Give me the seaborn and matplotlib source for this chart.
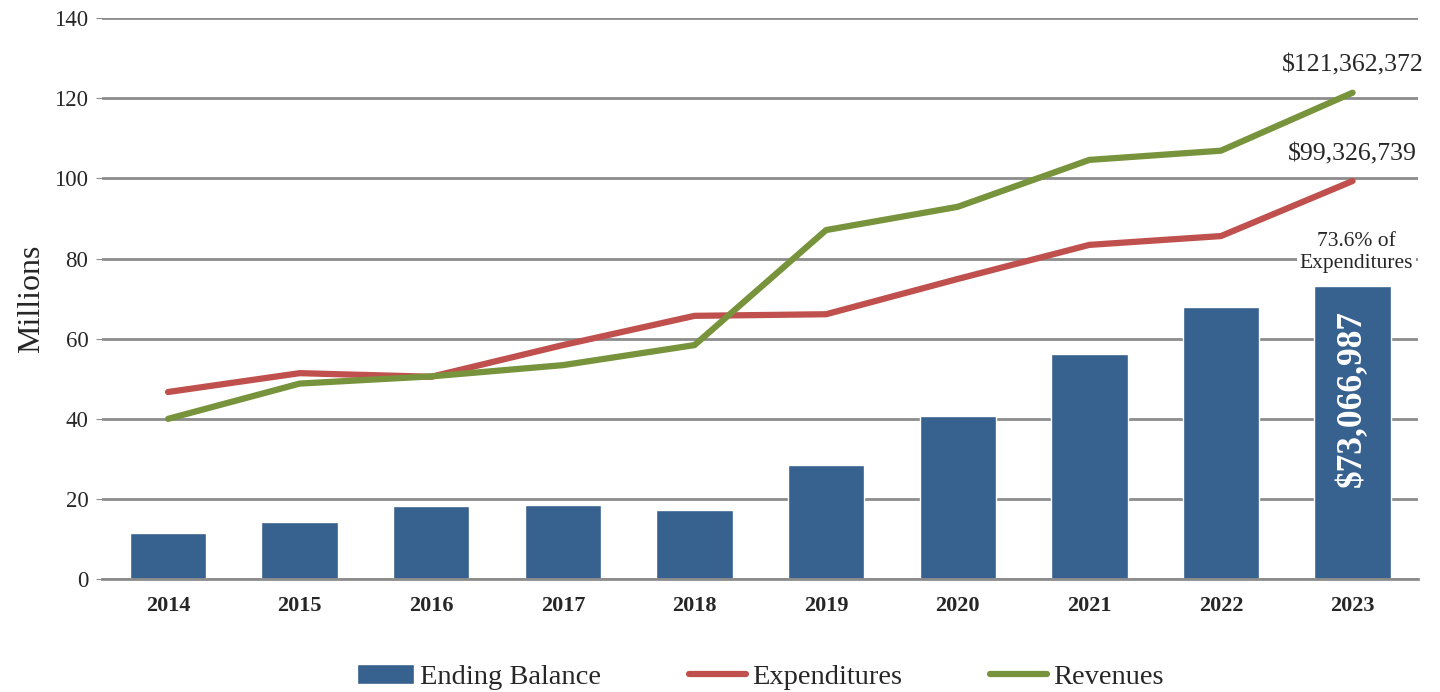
import matplotlib
matplotlib.use('Agg')
import matplotlib.pyplot as plt
import seaborn as sns
import pandas as pd

# Dados (em milhões)
anos = ['2014', '2015', '2016', '2017', '2018', '2019', '2020', '2021', '2022', '2023']
saldo_final = [11.5, 14.2, 18.3, 18.5, 17.2, 28.5, 40.7, 56.2, 67.9, 73.07]
despesas = [46.7, 51.4, 50.5, 58.4, 65.7, 66.1, 74.9, 83.4, 85.6, 99.33]
receitas = [40.0, 48.8, 50.6, 53.4, 58.4, 87.1, 92.9, 104.6, 106.9, 121.36]

df = pd.DataFrame({'ano': anos, 'saldo': saldo_final, 'despesas': despesas, 'receitas': receitas})
df['pos'] = range(len(anos))

sns.set_style('white')
plt.rcParams['font.family'] = ['Liberation Serif', 'DejaVu Serif']

azul = '#37618F'
vermelho = '#C0504D'
verde = '#77933C'

fig, ax = plt.subplots(figsize=(14.4, 6.92), dpi=100)
fig.subplots_adjust(left=0.071, right=0.985, top=0.974, bottom=0.163)

sns.barplot(data=df, x='ano', y='saldo', color=azul, width=0.58, saturation=1,
            ax=ax, label='Ending Balance', zorder=2)
sns.lineplot(data=df, x='pos', y='despesas', color=vermelho, linewidth=4.5,
             ax=ax, label='Expenditures', zorder=3, solid_capstyle='round')
sns.lineplot(data=df, x='pos', y='receitas', color=verde, linewidth=4.5,
             ax=ax, label='Revenues', zorder=3, solid_capstyle='round')

ax.set_xlim(-0.5, 9.5)
ax.set_ylim(0, 140)
ax.set_yticks(range(0, 141, 20))
ax.yaxis.grid(True, color='#8c8c8c', linewidth=2, zorder=0)
ax.set_axisbelow(True)
for s in ['top', 'right', 'left']:
    ax.spines[s].set_visible(False)
ax.spines['bottom'].set_color('#8c8c8c')
ax.spines['bottom'].set_linewidth(2)
ax.tick_params(axis='y', length=4, color='#8c8c8c', labelsize=16.5, pad=6, left=True)
ax.tick_params(axis='x', length=0, labelsize=16, pad=12)
for t in ax.get_xticklabels():
    t.set_fontweight('bold')
ax.set_xlabel('')
ax.set_ylabel('Millions', fontsize=23, labelpad=6)

# Anotações do último ano
ax.text(9, receitas[-1] + 4, '$121,362,372', ha='center', va='bottom', fontsize=18.5)
ax.text(9, despesas[-1] + 4, '$99,326,739', ha='center', va='bottom', fontsize=18.5)
ax.text(9.03, 81.5, '73.6% of\nExpenditures', ha='center', va='center', fontsize=15.5,
        linespacing=1.2, bbox=dict(facecolor='white', edgecolor='none', pad=2), zorder=4)
ax.text(9, 45, '$73,066,987', ha='center', va='center', rotation=90, color='white',
        fontsize=25.5, fontweight='bold', zorder=5)

# Legenda na ordem: barras primeiro
handles, labels = ax.get_legend_handles_labels()
ordem = [labels.index(l) for l in ['Ending Balance', 'Expenditures', 'Revenues']]
ax.legend([handles[i] for i in ordem], [labels[i] for i in ordem],
          loc='upper center', bbox_to_anchor=(0.5, -0.105), ncol=3, frameon=False,
          fontsize=20.5, handlelength=2.0, handletextpad=0.2, columnspacing=3.1)

plt.savefig('out.png', dpi=100)
